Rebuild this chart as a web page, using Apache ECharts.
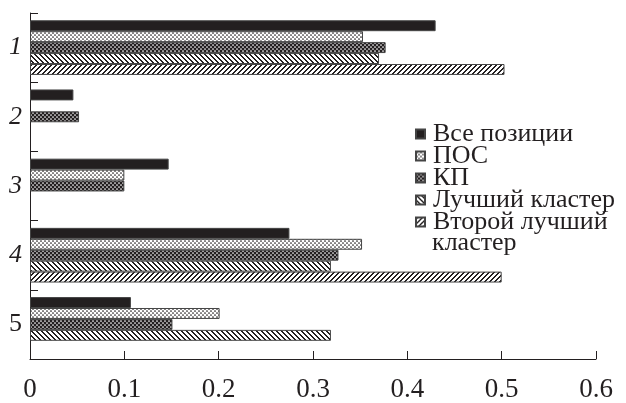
<!DOCTYPE html>
<html>
<head>
<meta charset="utf-8">
<script src="https://cdn.jsdelivr.net/npm/echarts@6/dist/echarts.min.js"></script>
<style>
html,body{margin:0;padding:0;background:#fff;}
#chart{width:626px;height:403px;}
</style>
</head>
<body>
<div id="chart"></div>
<script>
const categories = ['1', '2', '3', '4', '5'];
const seriesNames = ['Все позиции', 'ПОС', 'КП', 'Лучший кластер', 'Второй лучший кластер'];
const allPositions = [0.430, 0.046, 0.147, 0.275, 0.107];
const posValues = [0.353, null, 0.100, 0.352, 0.201];
const kpValues = [0.377, 0.052, 0.100, 0.327, 0.151];
const bestCluster = [0.370, null, null, 0.319, 0.319];
const secondCluster = [0.503, null, null, 0.500, null];
const xMin = 0, xMax = 0.6, xInterval = 0.1;

const INK = '#231f20';

function dotPattern(bg, fg) {
  const c = document.createElement('canvas');
  c.width = 4; c.height = 4;
  const ctx = c.getContext('2d');
  ctx.fillStyle = bg; ctx.fillRect(0, 0, 4, 4);
  ctx.fillStyle = fg;
  [[1, 1], [3, 3]].forEach(p => { ctx.beginPath(); ctx.arc(p[0], p[1], 0.85, 0, Math.PI * 2); ctx.fill(); });
  return { image: c, repeat: 'repeat' };
}
function pixPattern(w, h, fn, bg, fg) {
  const c = document.createElement('canvas');
  c.width = w; c.height = h;
  const ctx = c.getContext('2d');
  ctx.fillStyle = bg; ctx.fillRect(0, 0, w, h);
  ctx.fillStyle = fg;
  for (let y = 0; y < h; y++) for (let x = 0; x < w; x++) if (fn(x, y)) ctx.fillRect(x, y, 1, 1);
  return { image: c, repeat: 'repeat' };
}
const patPOS = dotPattern('#ffffff', INK);
const patKP = dotPattern(INK, '#ffffff');
const patBack = pixPattern(5, 5, (x, y) => ((x - y + 10) % 5) < 2, '#ffffff', INK);
const patFwd = pixPattern(5, 5, (x, y) => ((x + y) % 5) < 2, '#ffffff', INK);

const fills = [INK, patPOS, patKP, patBack, patFwd];
const dataSets = [allPositions, posValues, kpValues, bestCluster, secondCluster];

const series = seriesNames.map((n, i) => ({
  name: n,
  type: 'bar',
  data: dataSets[i],
  barGap: '0%',
  barCategoryGap: '21%',
  itemStyle: { color: fills[i], borderColor: '#444', borderWidth: 1 },
  emphasis: { disabled: true },
  animation: false
}));

const chart = echarts.init(document.getElementById('chart'));
chart.setOption({
  animation: false,
  backgroundColor: '#fff',
  grid: { left: 30, right: 30, top: 13, bottom: 29, containLabel: false },
  xAxis: {
    type: 'value', min: xMin, max: xMax, interval: xInterval,
    axisLine: { show: true, lineStyle: { color: INK, width: 1 } },
    axisTick: { show: true, inside: true, length: 8, lineStyle: { color: INK } },
    splitLine: { show: false },
    axisLabel: { color: INK, fontFamily: 'Liberation Serif', fontSize: 27, margin: 17 }
  },
  yAxis: {
    type: 'category', data: categories, inverse: true,
    axisLine: { show: true, lineStyle: { color: INK, width: 1 } },
    axisTick: { show: true, inside: true, length: 8, lineStyle: { color: INK } },
    axisLabel: {
      margin: 8,
      formatter: v => v === '5' ? '{n|' + v + '}' : '{i|' + v + '}',
      rich: {
        i: { fontFamily: 'Liberation Serif', fontStyle: 'italic', fontSize: 26, color: INK },
        n: { fontFamily: 'Liberation Serif', fontSize: 26, color: INK }
      }
    }
  },
  legend: {
    orient: 'vertical', left: 415, top: 121, padding: 0,
    itemWidth: 9, itemHeight: 9, itemGap: -4,
    icon: 'rect',
    data: seriesNames,
    formatter: name => name === 'Второй лучший кластер' ? 'Второй лучший' : name,
    textStyle: { fontFamily: 'Liberation Serif', fontSize: 26, lineHeight: 22, color: INK, padding: [0, 0, 0, 3] },
    selectedMode: false
  },
  graphic: [{
    type: 'text', left: 432, top: 230,
    style: { text: 'кластер', font: '26px "Liberation Serif"', fill: INK }
  }],
  series: series
});
</script>
</body>
</html>
